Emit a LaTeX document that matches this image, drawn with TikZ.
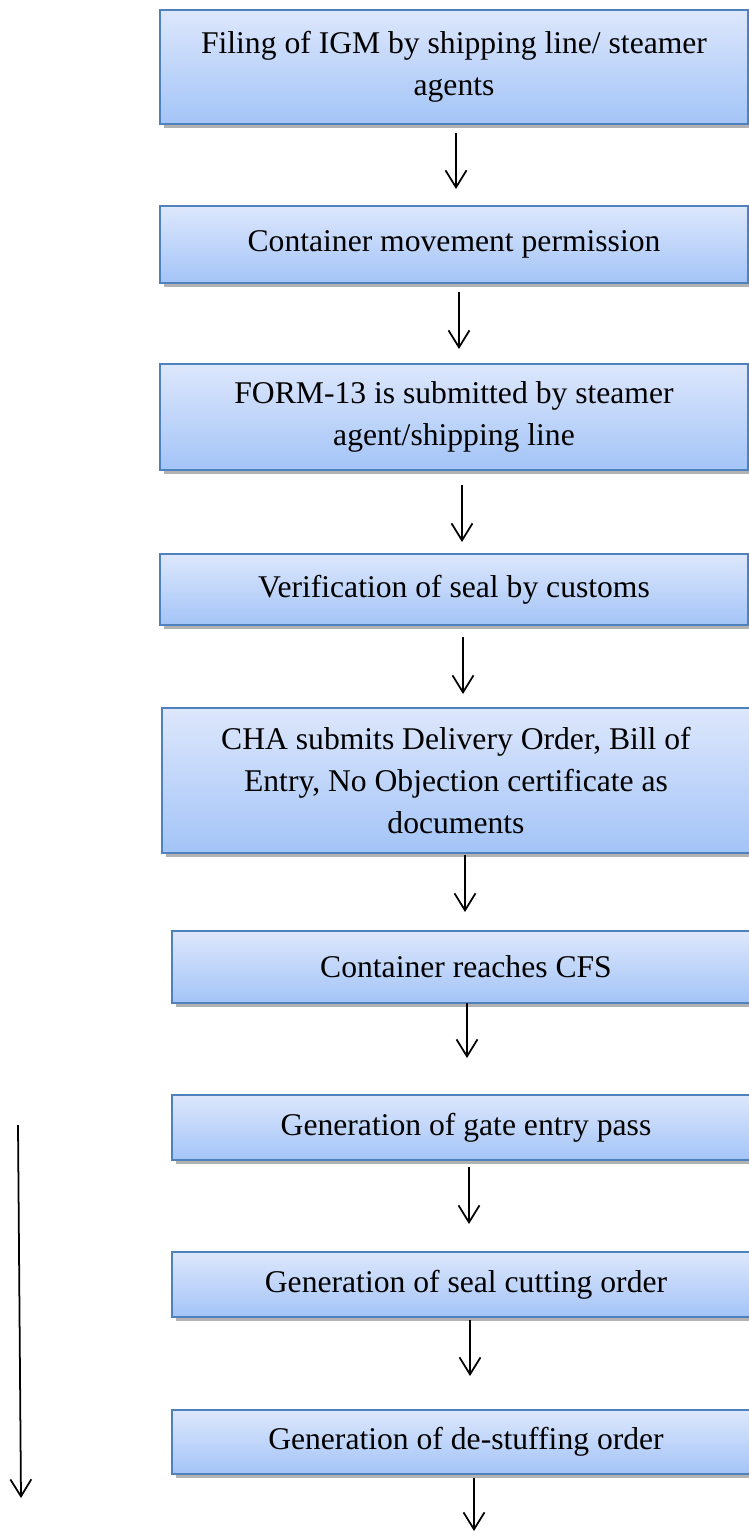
\documentclass[tikz,border=0pt]{standalone}
\usepackage{fontspec}
\setmainfont{Liberation Serif}
\usetikzlibrary{positioning, arrows.meta, calc, shadows}
\definecolor{boxborder}{RGB}{79,129,189}
\definecolor{boxtop}{RGB}{221,231,252}
\definecolor{boxbottom}{RGB}{163,196,247}
\tikzset{
    stepbox/.style={draw=boxborder, line width=1pt, top color=boxtop, bottom color=boxbottom,
        minimum width=11.76cm, inner sep=0pt, outer sep=0pt, align=center,
        font=\fontsize{18}{24}\selectfont,
        drop shadow={shadow xshift=2pt, shadow yshift=-2.5pt, fill=black, opacity=0.3}},
    flow_arrow/.style={line width=1pt, -{Straight Barb[length=0.34cm, width=0.42cm]}}
}

\begin{document}
\begin{tikzpicture}[x=0.02cm, y=-0.02cm]
    \useasboundingbox (0,0) rectangle (749,1532);
    \clip (0,0) rectangle (749,1532);

    % --- Nodes for Steps ---
    \node (igm) [stepbox, minimum height=2.28cm] at (454,67) {Filing of IGM by shipping line/ steamer\\agents};
    \node (move) [stepbox, minimum height=1.54cm] at (454,244.5) {Container movement permission};
    \node (form) [stepbox, minimum height=2.12cm] at (454,417) {FORM-13 is submitted by steamer\\agent/shipping line};
    \node (seal) [stepbox, minimum height=1.42cm] at (454,589.5) {Verification of seal by customs};
    \node (cha) [stepbox, minimum height=2.9cm] at (456,780.5) {CHA submits Delivery Order, Bill of\\Entry, No Objection certificate as\\documents};
    \node (cfs) [stepbox, minimum height=1.44cm] at (466,967) {Container reaches CFS};
    \node (gate) [stepbox, minimum height=1.3cm] at (466,1127.5) {Generation of gate entry pass};
    \node (cut) [stepbox, minimum height=1.3cm] at (466,1284.5) {Generation of seal cutting order};
    \node (destuff) [stepbox, minimum height=1.28cm] at (466,1442) {Generation of de-stuffing order};

    % --- Free ends ---
    \coordinate (last end) at (474,1531);
    \coordinate (side top) at (18,1125);
    \coordinate (side end) at (21,1498);

    % --- Arrows between steps ---
    \draw[flow_arrow] ($(igm.south)+(2,9)$) -- ($(move.north)+(2,-17)$);
    \draw[flow_arrow] ($(move.south)+(5,9)$) -- ($(form.north)+(5,-15)$);
    \draw[flow_arrow] ($(form.south)+(8,15)$) -- ($(seal.north)+(8,-12)$);
    \draw[flow_arrow] ($(seal.south)+(9,12)$) -- ($(cha.north)+(7,-14)$);
    \draw[flow_arrow] ($(cha.south)+(9,2)$) -- ($(cfs.north)+(-1,-19)$);
    \draw[flow_arrow] ($(cfs.south)+(1,0)$) -- ($(gate.north)+(1,-37)$);
    \draw[flow_arrow] ($(gate.south)+(3,7)$) -- ($(cut.north)+(3,-28)$);
    \draw[flow_arrow] ($(cut.south)+(4,3)$) -- ($(destuff.north)+(4,-34)$);
    \draw[flow_arrow] ($(destuff.south)+(8,4)$) -- (last end);
    \draw[flow_arrow] (side top) -- (side end);
\end{tikzpicture}
\end{document}
